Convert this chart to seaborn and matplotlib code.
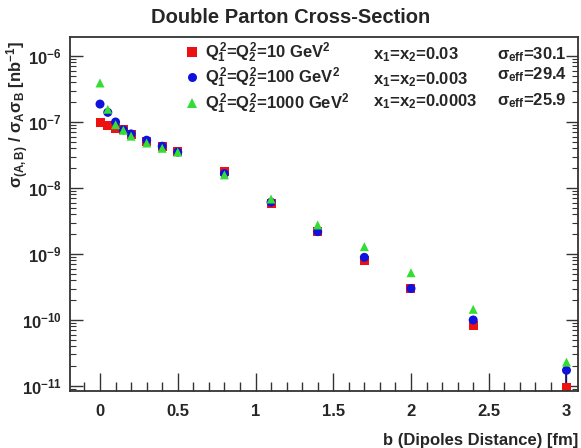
import numpy as np
import pandas as pd
import matplotlib
matplotlib.use("Agg")
import matplotlib.pyplot as plt
from matplotlib.ticker import (LogLocator, MultipleLocator, NullFormatter,
                               FormatStrFormatter)
import seaborn as sns

# impact parameter b [fm]
b_vals = [0.0, 0.05, 0.1, 0.15, 0.2, 0.3, 0.4, 0.5, 0.8, 1.1, 1.4, 1.7, 2.0, 2.4, 3.0]

# sigma_(A,B) / sigma_A sigma_B [nb^-1]
sig_q10 = [9.7e-8, 8.7e-8, 7.9e-8, 7.6e-8, 6.4e-8, 5.1e-8, 4.3e-8, 3.6e-8,
           1.77e-8, 5.9e-9, 2.2e-9, 8.1e-10, 3.0e-10, 8.3e-11, 9.5e-12]
sig_q100 = [1.87e-7, 1.4e-7, 1.0e-7, 7.6e-8, 6.6e-8, 5.3e-8, 4.3e-8, 3.5e-8,
            1.65e-8, 6.1e-9, 2.18e-9, 8.9e-10, 3.0e-10, 1.0e-10, 1.73e-11]
sig_q1000 = [3.9e-7, 1.56e-7, 9.1e-8, 7.5e-8, 6.1e-8, 4.8e-8, 4.0e-8, 3.5e-8,
             1.58e-8, 6.8e-9, 2.75e-9, 1.29e-9, 5.2e-10, 1.45e-10, 2.3e-11]
# lower error on the Q2=100 series (only the last point has a visible bar)
err_low_q100 = [0, 0, 0, 0, 0, 0, 0, 0, 0, 0, 0, 0, 0, 0, 0.75e-11]

series_labels = [r"$Q_1^2$=$Q_2^2$=10 GeV$^2$",
                 r"$Q_1^2$=$Q_2^2$=100 GeV$^2$",
                 r"$Q_1^2$=$Q_2^2$=1000 GeV$^2$"]
x_labels = [r"x$_1$=x$_2$=0.03", r"x$_1$=x$_2$=0.003", r"x$_1$=x$_2$=0.0003"]
sigma_eff = ["30.1", "29.4", "25.9"]
colors = ["#ee1111", "#1111dd", "#33dd33"]
markers = ["s", "o", "^"]


def build_frame():
    rows = []
    for lab, vals in zip(series_labels, [sig_q10, sig_q100, sig_q1000]):
        for b, v in zip(b_vals, vals):
            rows.append({"b": b, "sigma": v, "series": lab})
    return pd.DataFrame(rows)


def main():
    sns.set_style("white")
    plt.rcParams["font.family"] = ["Liberation Sans", "DejaVu Sans"]
    plt.rcParams["font.weight"] = "bold"
    plt.rcParams["mathtext.fontset"] = "custom"
    plt.rcParams["mathtext.rm"] = "Liberation Sans:bold"
    plt.rcParams["mathtext.it"] = "Liberation Sans:bold"
    plt.rcParams["mathtext.bf"] = "Liberation Sans:bold"
    plt.rcParams["mathtext.sf"] = "Liberation Sans:bold"

    df = build_frame()

    fig = plt.figure(figsize=(5.81, 4.48), dpi=100)
    ax = fig.add_axes([70 / 581, 57 / 448, 508 / 581, 354 / 448])

    # blue error bar drawn first so markers sit on top
    ax.errorbar(b_vals, sig_q100, yerr=[err_low_q100, [0] * len(b_vals)],
                fmt="none", ecolor="#111166", elinewidth=1.2, zorder=1)

    sns.scatterplot(data=df, x="b", y="sigma", hue="series", style="series",
                    palette=colors, markers=markers, s=42, linewidth=0,
                    ax=ax, zorder=2)

    ax.set_yscale("log")
    ax.set_xlim(-0.193, 3.074)
    ax.set_ylim(10 ** -11.076, 10 ** -5.712)

    # ROOT-like ticks
    ax.xaxis.set_major_locator(MultipleLocator(0.5))
    ax.xaxis.set_minor_locator(MultipleLocator(0.1))
    ax.xaxis.set_major_formatter(FormatStrFormatter("%g"))
    ax.yaxis.set_major_locator(LogLocator(base=10, numticks=20))
    ax.yaxis.set_minor_locator(LogLocator(base=10, subs=np.arange(2, 10),
                                          numticks=20))
    ax.yaxis.set_minor_formatter(NullFormatter())
    ax.tick_params(axis="x", which="major", direction="in", length=13,
                   width=1, color="#333333", labelsize=12, pad=9, bottom=True)
    ax.tick_params(axis="x", which="minor", direction="in", length=6.5,
                   width=1, color="#333333", bottom=True)
    ax.tick_params(axis="y", which="major", direction="in", length=9,
                   width=1, color="#333333", labelsize=12, pad=6,
                   left=True, right=True)
    ax.tick_params(axis="y", which="minor", direction="in", length=4.5,
                   width=0.8, color="#333333", left=True, right=True)
    for sp in ax.spines.values():
        sp.set_color("#333333")
        sp.set_linewidth(1.3)

    ax.set_xlabel("b (Dipoles Distance) [fm]", fontsize=12, fontweight="bold")
    ax.xaxis.set_label_coords(1.0, -0.12)
    ax.xaxis.label.set_horizontalalignment("right")
    ax.set_ylabel(r"$\sigma_{(A,B)}$ / $\sigma_A\sigma_B$ [nb$^{-1}$]",
                  fontsize=12, fontweight="bold")
    ax.yaxis.set_label_coords(-0.103, 0.99)
    ax.yaxis.label.set_horizontalalignment("right")
    ax.yaxis.label.set_verticalalignment("center")

    fig.text(0.5, 0.962, "Double Parton Cross-Section", ha="center",
             va="center", fontsize=14.5, fontweight="bold")

    # legend with the three series
    handles, labels = ax.get_legend_handles_labels()
    ax.legend(handles, labels, loc="upper left",
              bbox_to_anchor=(109 / 508, 1.0 + 3 / 354), frameon=False,
              fontsize=12, handlelength=0.8, handletextpad=0.35,
              labelspacing=0.05, borderaxespad=0, markerscale=1.0)

    # side columns of the legend
    x_rows = [55, 80, 102]
    s_rows = [55, 75, 101]
    for i in range(3):
        ax.text((373 - 70) / 508, (391 - x_rows[i]) / 354, x_labels[i],
                transform=ax.transAxes, fontsize=12, va="center", ha="left")
        ax.text((497 - 70) / 508, (391 - s_rows[i]) / 354,
                r"$\sigma_{\rm eff}$=" + sigma_eff[i],
                transform=ax.transAxes, fontsize=12, va="center", ha="left")

    fig.savefig("out.png", dpi=100)


if __name__ == "__main__":
    main()
